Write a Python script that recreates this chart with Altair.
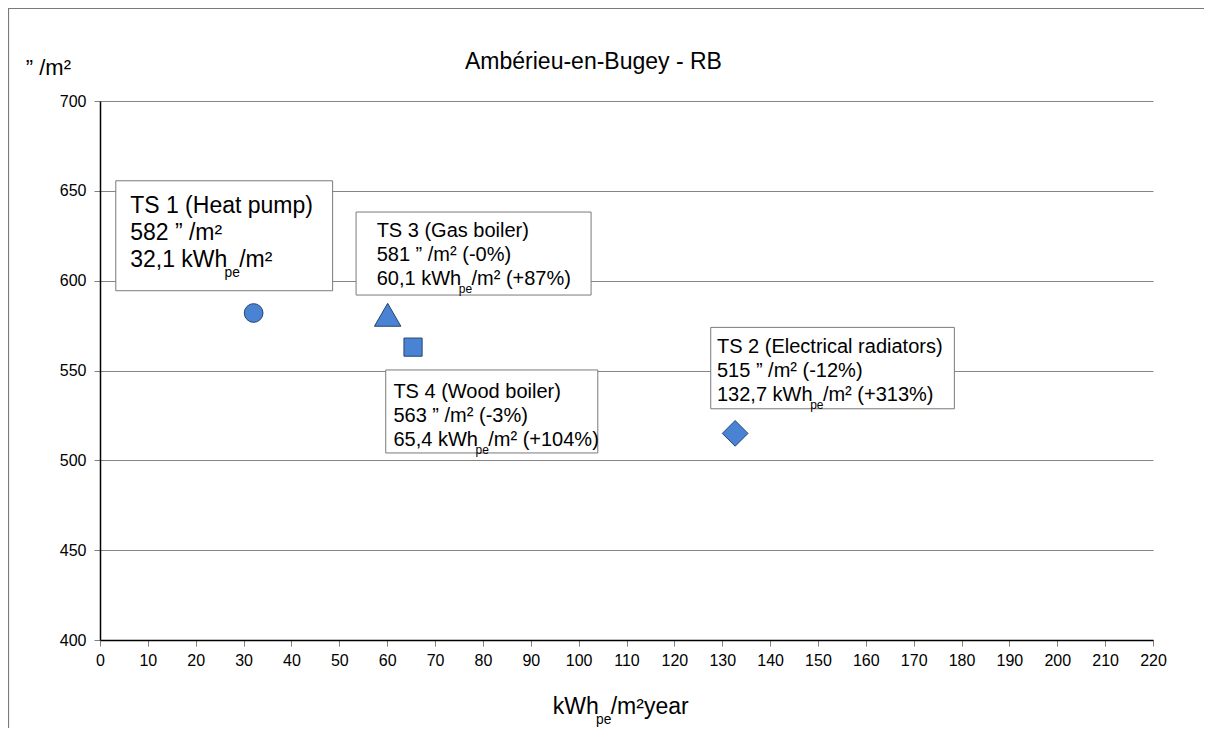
import altair as alt
import pandas as pd

FONT = "Liberation Sans"

# ---------------- data ----------------
names = ["TS 1 (Heat pump)", "TS 3 (Gas boiler)", "TS 4 (Wood boiler)", "TS 2 (Electrical radiators)"]
energy = [32.1, 60.1, 65.4, 132.7]          # kWh_pe/m²year
cost = [582, 581, 563, 515]                  # ” /m²
cost_txt = ["582 ” /m²", "581 ” /m² (-0%)", "563 ” /m² (-3%)", "515 ” /m² (-12%)"]
energy_txt = ["32,1 kWh", "60,1 kWh", "65,4 kWh", "132,7 kWh"]
energy_sfx = ["/m²", "/m² (+87%)", "/m² (+104%)", "/m² (+313%)"]
x_ticks = list(range(0, 221, 10))
y_ticks = list(range(400, 701, 50))
title_txt = "Ambérieu-en-Bugey - RB"
y_title = "” /m²"
x_title = ["kWh", "pe", "/m²year"]

# ---------------- annotation placement (data units) ----------------
box_x1 = [3.3, 53.5, 59.7, 127.6]
box_x2 = [48.6, 102.6, 104.0, 178.5]
box_y1 = [655.6, 638.2, 550.3, 574.0]
box_y2 = [594.4, 592.0, 504.1, 528.7]
text_x = [6.3, 57.8, 61.3, 128.9]
line1_y = [637.5, 624.5, 534.9, 559.9]

# ---------------- styles ----------------
W, H = 1053, 539
label_fs = [23, 20, 20, 20]
line_gap_px = [27, 24, 24, 24]
shapes = ["circle", "triangle-up", "square", "diamond"]
sizes = [350, 700, 330, 660]
FILL = "#4A83D4"
EDGE = "#23466F"

PXX = 220 / W   # data units per pixel (x)
PXY = 300 / H   # data units per pixel (y)

AW = {' ': 278, '%': 889, '(': 333, ')': 333, '+': 584, ',': 278, '-': 333, '.': 278,
      '/': 278, '²': 333, '”': 333, 'a': 556, 'e': 556, 'h': 556, 'k': 500, 'm': 833,
      'p': 556, 'r': 333, 'y': 500, 'W': 944}
for d in "0123456789":
    AW[d] = 556


def tw(s):
    return sum(AW.get(c, 556) for c in s) / 1000.0


rows = []


def add_sub_line(x0, y0, fs, a, sub, b):
    sfs = fs * 0.6
    rows.append(dict(x=x0, y=y0, text=a, size=fs))
    xs = x0 + (tw(a) - 0.12) * fs * PXX
    rows.append(dict(x=xs, y=y0 - 0.42 * fs * PXY, text=sub, size=sfs))
    xb = xs + (tw(sub) - 0.05) * sfs * PXX
    rows.append(dict(x=xb, y=y0, text=b, size=fs))


for i in range(len(names)):
    fs = label_fs[i]
    gap = line_gap_px[i] * PXY
    rows.append(dict(x=text_x[i], y=line1_y[i], text=names[i], size=fs))
    rows.append(dict(x=text_x[i], y=line1_y[i] - gap, text=cost_txt[i], size=fs))
    add_sub_line(text_x[i], line1_y[i] - 2 * gap, fs, energy_txt[i], "pe", energy_sfx[i])

# x axis title (below the axis) and y axis title (top left)
add_sub_line(94.6, 358.8, 23, x_title[0], x_title[1], x_title[2])
rows.append(dict(x=-15.5, y=714.5, text=y_title, size=22))
text_df = pd.DataFrame(rows)

pts = pd.DataFrame({"name": names, "energy": energy, "cost": cost, "msize": sizes})
boxes = pd.DataFrame({"x1": box_x1, "x2": box_x2, "y1": box_y1, "y2": box_y2})
title_df = pd.DataFrame({"x": [103.1], "y": [717.6], "t": [title_txt]})

xs = alt.Scale(domain=[0, 220], nice=False, zero=False)
ys = alt.Scale(domain=[400, 700], nice=False, zero=False)

x_axis = alt.Axis(values=x_ticks, title=None, grid=False, domainColor="black", domainWidth=1.5,
                  tickColor="#808080", tickSize=6, labelFontSize=16, labelFont=FONT,
                  labelColor="black", labelPadding=6, labelFlush=False)
y_axis = alt.Axis(values=y_ticks, title=None, grid=True, gridColor="#858585", gridWidth=1,
                  domainColor="black", domainWidth=1.5, tickColor="#808080", tickSize=6,
                  labelFontSize=16, labelFont=FONT, labelColor="black", labelPadding=8,
                  labelFlush=False)

points = alt.Chart(pts).mark_point(filled=True, opacity=1, fill=FILL, stroke=EDGE,
                                   strokeWidth=1).encode(
    x=alt.X("energy:Q", scale=xs, axis=x_axis),
    y=alt.Y("cost:Q", scale=ys, axis=y_axis),
    shape=alt.Shape("name:N", scale=alt.Scale(domain=names, range=shapes), legend=None),
    size=alt.Size("msize:Q", scale=None, legend=None),
)

box_layer = alt.Chart(boxes).mark_rect(fill="white", stroke="#7a7a7a", strokeWidth=1).encode(
    x=alt.X("x1:Q", scale=xs, axis=x_axis), x2="x2:Q",
    y=alt.Y("y1:Q", scale=ys, axis=y_axis), y2="y2:Q",
)

text_layer = alt.Chart(text_df).mark_text(align="left", baseline="alphabetic", font=FONT,
                                          color="black").encode(
    x=alt.X("x:Q", scale=xs, axis=x_axis),
    y=alt.Y("y:Q", scale=ys, axis=y_axis),
    text="text:N",
    size=alt.Size("size:Q", scale=None, legend=None),
)

title_layer = alt.Chart(title_df).mark_text(align="center", baseline="alphabetic", font=FONT,
                                            fontSize=23, color="black").encode(
    x=alt.X("x:Q", scale=xs, axis=x_axis),
    y=alt.Y("y:Q", scale=ys, axis=y_axis),
    text="t:N",
)

frame = alt.Chart(pd.DataFrame({"a": [0]})).mark_rect(fill=None, stroke="#7a7a7a",
                                                      strokeWidth=1.2).encode(
    x=alt.value(-91.5), x2=alt.value(W + 300), y=alt.value(-92.5), y2=alt.value(H + 300)
)

chart = alt.layer(frame, box_layer, text_layer, title_layer, points).properties(
    width=W, height=H,
    autosize=alt.AutoSizeParams(type="none"),
    padding={"left": 92, "top": 93, "right": 51, "bottom": 88},
    background="white",
).configure_view(stroke=None)

chart.save("out.html", embed_options={"renderer": "svg", "actions": False})
